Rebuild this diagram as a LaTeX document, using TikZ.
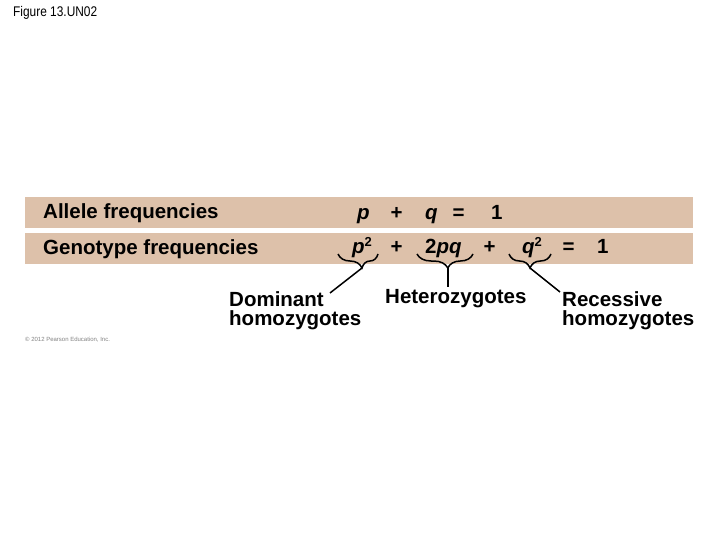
\documentclass[tikz,border=0pt]{standalone}
\usepackage{fontspec}
\setmainfont{Liberation Sans}
\usetikzlibrary{decorations.pathreplacing}
\definecolor{band}{RGB}{221,193,170}
\definecolor{copygray}{RGB}{130,130,130}
\newcommand{\sq}{\raisebox{7pt}{\fontsize{13}{13}\selectfont 2}}
\begin{document}
\begin{tikzpicture}[x=1pt,y=-1pt,
  big/.style={font=\fontsize{20.5}{19}\selectfont\bfseries, inner sep=0pt},
  lbl/.style={big, anchor=base west},
  lbl2/.style={big, anchor=base west, align=left},
  sym/.style={big, anchor=base},
  bandbox/.style={fill=band, draw=none},
  brc/.style={decorate, decoration={brace, mirror, amplitude=14pt, aspect=#1}, line width=1.5pt},
  ln/.style={line width=1.5pt}]
\useasboundingbox (0,0) rectangle (720,540);
% title
\node[inner sep=0pt, anchor=base west, font=\fontsize{14}{14}\selectfont] (title) at (13,17) {\scalebox{0.85}[1]{Figure 13.UN02}};
% bands
\path[bandbox] (25,197) rectangle (693,228);
\path[bandbox] (25,233) rectangle (693,264);
% row 1
\node[lbl] (allele) at (43,218.5) {Allele frequencies};
\node[lbl] (p1) at (357,220) {\itshape p};
\node[sym] (plus1) at (396.5,220) {+};
\node[lbl] (q1) at (425,220) {\itshape q};
\node[sym] (eq1) at (458.5,220) {=};
\node[lbl] (one1) at (491,220) {1};
% row 2
\node[lbl] (geno) at (43,254.3) {Genotype frequencies};
\node[lbl] (p2) at (352,254) {{\itshape p}\sq};
\node[sym] (plus2) at (396.5,254) {+};
\node[lbl] (pq) at (425,254) {2{\itshape pq}};
\node[sym] (plus3) at (489.5,254) {+};
\node[lbl] (q2) at (522,254) {{\itshape q}\sq};
\node[sym] (eq2) at (568.5,254) {=};
\node[lbl] (one2) at (597,254) {1};
% braces
\coordinate (b1a) at (338,254); \coordinate (b1b) at (378,254);
\coordinate (b2a) at (417,254); \coordinate (b2b) at (473,254);
\coordinate (b3a) at (509,254); \coordinate (b3b) at (551,254);
\draw[brc=0.6] (b1a) -- (b1b);
\draw[brc=0.55] (b2a) -- (b2b);
\draw[brc=0.5] (b3a) -- (b3b);
\coordinate (t1) at (362,268);
\coordinate (t2) at (448,268);
\coordinate (t3) at (530,268);
% labels (base anchor = baseline of last line)
\node[lbl2] (dom) at (229,325) {Dominant\\homozygotes};
\node[lbl] (het) at (385,303) {Heterozygotes};
\node[lbl2] (rec) at (562,325) {Recessive\\homozygotes};
\coordinate (d1) at (330,293);
\coordinate (d2) at (448,287);
\coordinate (d3) at (560,292);
\draw[ln] (t1) -- (d1);
\draw[ln] (t2) -- (d2);
\draw[ln] (t3) -- (d3);
% copyright
\node[inner sep=0pt, anchor=base west, font=\fontsize{6}{6}\selectfont, text=copygray] (copy) at (25,341) {\textcopyright{} 2012 Pearson Education, Inc.};
\end{tikzpicture}
\end{document}
